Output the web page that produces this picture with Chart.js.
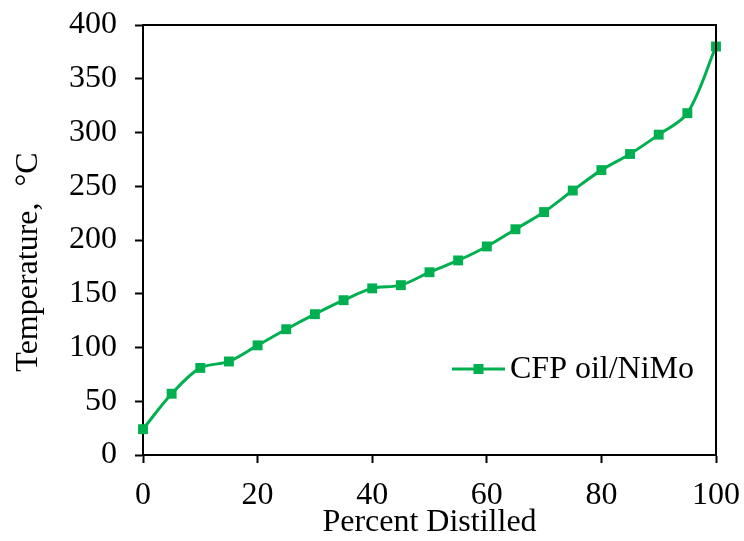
<!DOCTYPE html>
<html>
<head>
<meta charset="utf-8">
<script src="https://cdn.jsdelivr.net/npm/chart.js@4"></script>
<style>
  html, body { margin: 0; padding: 0; background: #fff; }
  #wrap { width: 744px; height: 541px; }
</style>
</head>
<body>
<div id="wrap"><canvas id="chartDistill"></canvas></div>
<script>
// distillation curve
const percentDistilled = [0, 5, 10, 15, 20, 25, 30, 35, 40, 45, 50, 55, 60, 65, 70, 75, 80, 85, 90, 95, 100];
const temperature = [24, 57, 81, 87, 102, 117, 131, 144, 155, 158, 170, 181, 194, 210, 226, 246, 265, 280, 298, 318, 380];
const seriesName = 'CFP oil/NiMo';
const yTitle = 'Temperature,  °C';
const lineColor = '#00b050';

const serif = "'Liberation Serif', 'Times New Roman', serif";

// box round the plot, y title and legend inside the plot
const framePlugin = {
  id: 'frame',
  afterDraw(chart) {
    const { ctx, chartArea: a } = chart;
    ctx.save();
    ctx.strokeStyle = '#000';
    ctx.lineWidth = 2;
    ctx.beginPath();
    ctx.moveTo(a.left, a.top);
    ctx.lineTo(a.right, a.top);
    ctx.lineTo(a.right, a.bottom);
    ctx.stroke();

    // y title sits a bit below the middle, as in the original
    ctx.fillStyle = '#000';
    ctx.font = '32px ' + serif;
    ctx.textAlign = 'center';
    ctx.textBaseline = 'middle';
    ctx.translate(29, 262);
    ctx.rotate(-Math.PI / 2);
    ctx.fillText(yTitle, 0, 0);
    ctx.setTransform(1, 0, 0, 1, 0, 0);

    // legend
    const ds = chart.data.datasets[0];
    const y = 369, x0 = 452, x1 = 505;
    ctx.strokeStyle = ds.borderColor;
    ctx.lineWidth = 3;
    ctx.beginPath();
    ctx.moveTo(x0, y);
    ctx.lineTo(x1, y);
    ctx.stroke();
    ctx.fillStyle = ds.backgroundColor;
    ctx.fillRect((x0 + x1) / 2 - 5, y - 5, 10, 10);
    ctx.fillStyle = '#000';
    ctx.textAlign = 'left';
    ctx.fillText(ds.label, 510, y + 1);
    ctx.restore();
  }
};

new Chart(document.getElementById('chartDistill'), {
  type: 'line',
  data: {
    datasets: [{
      label: seriesName,
      data: percentDistilled.map((p, i) => ({ x: p, y: temperature[i] })),
      borderColor: lineColor,
      backgroundColor: lineColor,
      borderWidth: 3,
      pointStyle: 'rect',
      pointRadius: 7,
      pointBorderWidth: 0,
      tension: 0.33,
      clip: false
    }]
  },
  options: {
    responsive: true,
    maintainAspectRatio: false,
    animation: false,
    layout: { padding: { top: 25, right: 28, left: 0, bottom: 0 } },
    scales: {
      x: {
        type: 'linear',
        min: 0,
        max: 100,
        ticks: { stepSize: 20, color: '#000', padding: 13, font: { family: serif, size: 32 } },
        grid: { display: true, drawOnChartArea: false, drawTicks: true, tickLength: 8, tickColor: '#000', tickWidth: 2 },
        border: { color: '#000', width: 2 },
        title: { display: true, text: 'Percent Distilled', color: '#000', padding: { top: 0, bottom: -1 }, font: { family: serif, size: 32 } },
        afterFit: s => { s.height = 86; s.paddingLeft = 0; s.paddingRight = 0; }
      },
      y: {
        min: 0,
        max: 400,
        ticks: { stepSize: 50, color: '#000', padding: 18, font: { family: serif, size: 32 } },
        grid: { display: true, drawOnChartArea: false, drawTicks: true, tickLength: 8, tickColor: '#000', tickWidth: 2 },
        border: { color: '#000', width: 2 },
        title: { display: false },
        afterFit: s => { s.width = 143; s.paddingTop = 0; s.paddingBottom = 0; }
      }
    },
    plugins: {
      legend: { display: false },
      tooltip: { enabled: false }
    }
  },
  plugins: [framePlugin]
});
</script>
</body>
</html>
